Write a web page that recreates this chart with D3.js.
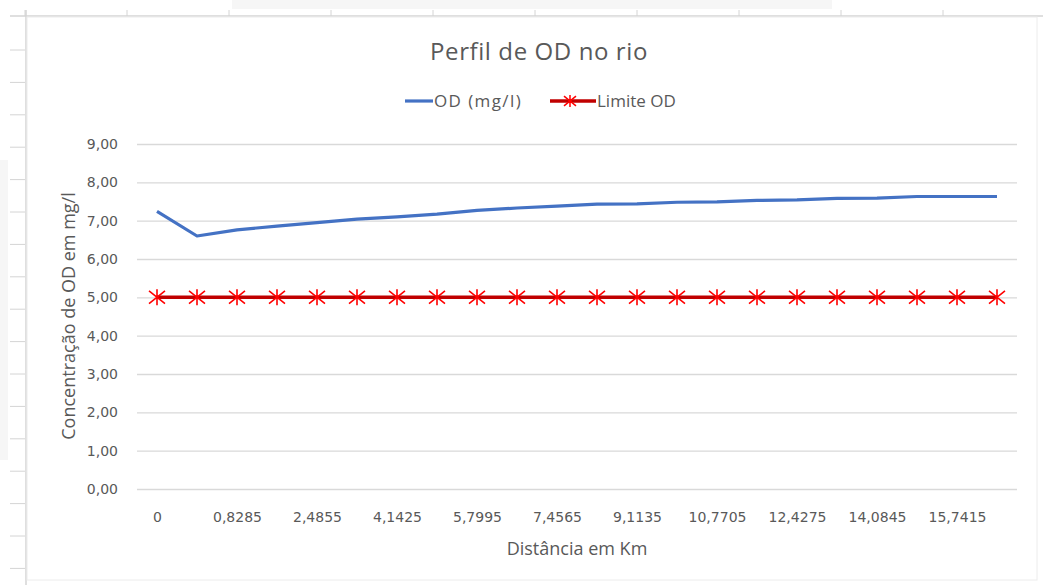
<!DOCTYPE html>
<html>
<head>
<meta charset="utf-8">
<script src="https://cdnjs.cloudflare.com/ajax/libs/d3/7.8.5/d3.min.js"></script>
<style>
  body { margin: 0; background: #fff; }
  svg { display: block; font-family: "DejaVu Sans", sans-serif; }
</style>
</head>
<body>
<svg width="1043" height="585"></svg>
<script>
// distancias (km) - o primeiro ponto aparece duas vezes como 0
var distancias = [0, 0, 0.8285, 1.657, 2.4855, 3.314, 4.1425, 4.971, 5.7995, 6.628, 7.4565,
    8.285, 9.1135, 9.942, 10.7705, 11.599, 12.4275, 13.256, 14.0845, 14.913, 15.7415, 16.57];
var od = [7.24, 6.60, 6.76, 6.86, 6.95, 7.04, 7.10, 7.17, 7.27, 7.33, 7.38,
    7.43, 7.44, 7.48, 7.49, 7.53, 7.54, 7.58, 7.59, 7.63, 7.63, 7.63];
var limite = [5, 5, 5, 5, 5, 5, 5, 5, 5, 5, 5, 5, 5, 5, 5, 5, 5, 5, 5, 5, 5, 5];
var yTicks = [0, 1, 2, 3, 4, 5, 6, 7, 8, 9];

var svg = d3.select("svg"), width = +svg.attr("width"),
    height = +svg.attr("height");

// fundo da planilha
var sheet = svg.append("g").attr("class", "sheet");
sheet.append("rect").attr("x", 232).attr("y", 0).attr("width", 600).attr("height", 9).attr("fill", "#f6f6f6");
sheet.append("rect").attr("x", 0).attr("y", 160).attr("width", 8).attr("height", 300).attr("fill", "#f6f6f6");
sheet.append("line").attr("x1", 10).attr("x2", width).attr("y1", 16).attr("y2", 16)
    .attr("stroke", "#d4d4d4").attr("stroke-width", 1.5);
sheet.append("line").attr("x1", 26).attr("x2", 26).attr("y1", 10).attr("y2", height)
    .attr("stroke", "#d4d4d4").attr("stroke-width", 1.5);
d3.range(25, width, 102).forEach(function(x) {
    sheet.append("line").attr("x1", x).attr("x2", x).attr("y1", 10).attr("y2", 16)
        .attr("stroke", "#d4d4d4");
});
d3.range(50, height, 32.4).forEach(function(y) {
    sheet.append("line").attr("x1", 10).attr("x2", 25).attr("y1", y).attr("y2", y)
        .attr("stroke", "#d4d4d4");
});

// area do grafico
svg.append("rect").attr("x", 27).attr("y", 17).attr("width", 1010).attr("height", 563)
    .attr("fill", "#fff").attr("stroke", "#ececec");

var x = d3.scalePoint()
    .domain(d3.range(distancias.length))
    .range([137, 1017])
    .padding(0.5);

var y = d3.scaleLinear().domain([0, 9]).range([489, 144]);

function virgula(v) { return String(v).replace(".", ","); }

// grade
var yAxis = svg.append("g")
    .attr("transform", "translate(137,0)")
    .call(d3.axisLeft(y).tickValues(yTicks).tickSize(-880).tickPadding(19)
        .tickFormat(function(d) { return d3.format(".2f")(d).replace(".", ","); }));
yAxis.select(".domain").remove();
yAxis.selectAll("line").attr("stroke", "#d9d9d9").attr("stroke-width", 1.3);
yAxis.selectAll("text").attr("fill", "#595959").style("font-size", "14px")
    .style("font-family", "DejaVu Sans");

var xAxis = svg.append("g")
    .attr("transform", "translate(0,489)")
    .call(d3.axisBottom(x).tickSize(0).tickPadding(23)
        .tickValues(d3.range(0, distancias.length, 2))
        .tickFormat(function(i) { return virgula(distancias[i]); }));
xAxis.select(".domain").remove();
xAxis.selectAll("text").attr("fill", "#595959").style("font-size", "14px")
    .style("font-family", "DejaVu Sans");

// series
var line = d3.line()
    .x(function(d, i) { return x(i); })
    .y(function(d) { return y(d); });

svg.append("path").datum(limite)
    .attr("d", line)
    .attr("fill", "none")
    .attr("stroke", "#c00000")
    .attr("stroke-width", 3.5);

function asterisco(s) {
    return "M0," + (-s) + "L0," + s +
        "M" + (-s) + "," + (-s * 0.8) + "L" + s + "," + (s * 0.8) +
        "M" + (-s) + "," + (s * 0.8) + "L" + s + "," + (-s * 0.8);
}

svg.append("g").selectAll("path")
    .data(limite)
    .enter()
    .append("path")
    .attr("transform", function(d, i) { return "translate(" + x(i) + "," + y(d) + ")"; })
    .attr("d", asterisco(8))
    .attr("fill", "none")
    .attr("stroke", "#ff0000")
    .attr("stroke-width", 1.6);

svg.append("path").datum(od)
    .attr("d", line)
    .attr("fill", "none")
    .attr("stroke", "#4472c4")
    .attr("stroke-width", 3.2)
    .attr("stroke-linejoin", "round");

// titulo
svg.append("text")
    .attr("x", 539).attr("y", 60)
    .attr("text-anchor", "middle")
    .attr("fill", "#595959")
    .style("font-size", "24px")
    .style("letter-spacing", "0.6px")
    .style("font-family", "Open Sans")
    .text("Perfil de OD no rio");

// legenda
var leg = svg.append("g");
leg.append("line").attr("x1", 405).attr("x2", 433).attr("y1", 101).attr("y2", 101)
    .attr("stroke", "#4472c4").attr("stroke-width", 3.2);
leg.append("text").attr("x", 434).attr("y", 107).attr("fill", "#595959")
    .style("font-size", "17px").style("letter-spacing", "1.4px")
    .style("font-family", "Open Sans").text("OD (mg/l)");
leg.append("line").attr("x1", 550).attr("x2", 596).attr("y1", 101).attr("y2", 101)
    .attr("stroke", "#c00000").attr("stroke-width", 3.5);
leg.append("path").attr("transform", "translate(570,101)").attr("d", asterisco(6))
    .attr("fill", "none").attr("stroke", "#ff0000").attr("stroke-width", 1.5);
leg.append("text").attr("x", 597).attr("y", 107).attr("fill", "#595959")
    .style("font-size", "17px").style("font-family", "Open Sans").text("Limite OD");

// titulos dos eixos
svg.append("text")
    .attr("transform", "translate(75,316) rotate(-90)")
    .attr("text-anchor", "middle")
    .attr("fill", "#595959")
    .style("font-size", "18px")
    .style("font-family", "Open Sans")
    .text("Concentração de OD em mg/l");

svg.append("text")
    .attr("x", 577).attr("y", 555)
    .attr("text-anchor", "middle")
    .attr("fill", "#595959")
    .style("font-size", "18px")
    .style("font-family", "Open Sans")
    .text("Distância em Km");
</script>
</body>
</html>
